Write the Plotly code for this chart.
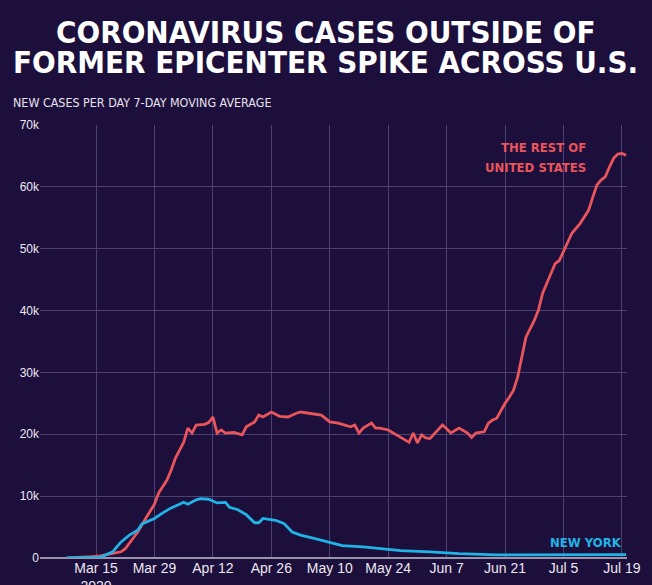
import plotly.graph_objects as go

# ========================
# Data
# ========================
rest_dates = [
    "2020-03-08", "2020-03-11", "2020-03-14", "2020-03-16", "2020-03-18", "2020-03-21",
    "2020-03-22", "2020-03-23", "2020-03-25", "2020-03-27", "2020-03-29", "2020-03-30",
    "2020-04-01", "2020-04-02", "2020-04-03", "2020-04-04", "2020-04-05", "2020-04-06",
    "2020-04-07", "2020-04-08", "2020-04-10", "2020-04-11", "2020-04-12", "2020-04-13",
    "2020-04-14", "2020-04-15", "2020-04-17", "2020-04-19", "2020-04-20", "2020-04-22",
    "2020-04-23", "2020-04-24", "2020-04-26", "2020-04-28", "2020-04-30", "2020-05-02",
    "2020-05-03", "2020-05-05", "2020-05-08", "2020-05-10", "2020-05-12", "2020-05-15",
    "2020-05-16", "2020-05-17", "2020-05-18", "2020-05-20", "2020-05-21", "2020-05-22",
    "2020-05-24", "2020-05-27", "2020-05-29", "2020-05-30", "2020-05-31", "2020-06-01",
    "2020-06-02", "2020-06-03", "2020-06-05", "2020-06-06", "2020-06-07", "2020-06-08",
    "2020-06-10", "2020-06-12", "2020-06-13", "2020-06-14", "2020-06-15", "2020-06-16",
    "2020-06-17", "2020-06-18", "2020-06-19", "2020-06-20", "2020-06-21", "2020-06-22",
    "2020-06-23", "2020-06-24", "2020-06-25", "2020-06-26", "2020-06-28", "2020-06-29",
    "2020-06-30", "2020-07-02", "2020-07-03", "2020-07-04", "2020-07-06", "2020-07-07",
    "2020-07-09", "2020-07-11", "2020-07-12", "2020-07-13", "2020-07-14", "2020-07-15",
    "2020-07-16", "2020-07-17", "2020-07-18", "2020-07-19", "2020-07-20",
]
rest_cases = [
    0, 50, 200, 350, 600, 1000,
    1500, 2400, 4200, 6500, 8700, 10500,
    12600, 14200, 16100, 17400, 18700, 21000,
    20200, 21500, 21600, 21900, 22800, 20200,
    20700, 20200, 20300, 19900, 21200, 22000,
    23100, 22800, 23600, 22900, 22800, 23400,
    23600, 23400, 23100, 22000, 21800, 21200,
    21500, 20200, 21000, 21800, 21000, 21000,
    20700, 19500, 18700, 20200, 18600, 19900,
    19400, 19300, 20700, 21500, 20900, 20200,
    21000, 20200, 19500, 20200, 20300, 20400,
    21800, 22300, 22600, 23900, 25000, 26000,
    27100, 29200, 32500, 35700, 38400, 40100,
    42800, 46000, 47600, 48100, 50900, 52500,
    54100, 56200, 58300, 60300, 61100, 61600,
    63200, 64600, 65300, 65400, 65100,
]

ny_dates = [
    "2020-03-08", "2020-03-14", "2020-03-16", "2020-03-17", "2020-03-19", "2020-03-20",
    "2020-03-21", "2020-03-23", "2020-03-25", "2020-03-26", "2020-03-28", "2020-03-29",
    "2020-03-31", "2020-04-02", "2020-04-04", "2020-04-05", "2020-04-06", "2020-04-08",
    "2020-04-09", "2020-04-11", "2020-04-13", "2020-04-15", "2020-04-16", "2020-04-18",
    "2020-04-20", "2020-04-22", "2020-04-23", "2020-04-24", "2020-04-27", "2020-04-29",
    "2020-05-01", "2020-05-03", "2020-05-06", "2020-05-10", "2020-05-13", "2020-05-18",
    "2020-05-22", "2020-05-27", "2020-06-03", "2020-06-10", "2020-06-19", "2020-07-04",
    "2020-07-14", "2020-07-20",
]
ny_cases = [
    0, 0, 100, 400, 1000, 1800,
    2600, 3700, 4500, 5500, 6100, 6400,
    7300, 8100, 8700, 9000, 8700, 9400,
    9600, 9500, 8900, 9000, 8200, 7800,
    7000, 5700, 5700, 6400, 6100, 5600,
    4200, 3700, 3200, 2500, 2000, 1800,
    1500, 1200, 1000, 700, 500, 500,
    600, 550,
]

tick_dates = ["2020-03-15", "2020-03-29", "2020-04-12", "2020-04-26", "2020-05-10",
              "2020-05-24", "2020-06-07", "2020-06-21", "2020-07-05", "2020-07-19"]
tick_labels = ["Mar 15<br>2020", "Mar 29", "Apr 12", "Apr 26", "May 10",
               "May 24", "Jun 7", "Jun 21", "Jul 5", "Jul 19"]

y_ticks = [0, 10000, 20000, 30000, 40000, 50000, 60000, 70000]
y_tick_labels = ["0", "10k", "20k", "30k", "40k", "50k", "60k", "70k"]

# ========================
# Styling
# ========================
BG = "#1d0f3b"
RED = "#e8555b"
BLUE = "#20b4e6"
GRID = "#4d4174"
COND = "DejaVu Sans Condensed, Liberation Sans Narrow, Arial Narrow, sans-serif"
PLAIN = "Liberation Sans, Arial, sans-serif"

fig = go.Figure()

fig.add_trace(go.Scatter(
    x=rest_dates, y=rest_cases, mode="lines",
    line=dict(color=RED, width=2.8), name="The rest of United States",
    hoverinfo="x+y",
))
fig.add_trace(go.Scatter(
    x=ny_dates, y=ny_cases, mode="lines",
    line=dict(color=BLUE, width=2.8), name="New York",
    hoverinfo="x+y",
))

fig.update_layout(
    width=652, height=585,
    paper_bgcolor=BG, plot_bgcolor=BG,
    margin=dict(l=40, r=25, t=125, b=27),
    showlegend=False,
    font=dict(family=PLAIN, color="#e6e2ee", size=13),
)

fig.update_xaxes(
    range=["2020-03-01 14:00", "2020-07-20 05:00"],
    tickvals=tick_dates, ticktext=tick_labels,
    showgrid=True, gridcolor=GRID, gridwidth=1,
    showline=False, zeroline=False, ticks="", automargin=False,
    tickfont=dict(size=14, color="#ebe8f2"),
)
fig.update_yaxes(
    range=[0, 70000],
    tickvals=y_ticks, ticktext=y_tick_labels,
    showgrid=True, gridcolor=GRID, gridwidth=1,
    zeroline=True, zerolinecolor="#9a93ad", zerolinewidth=2,
    ticks="", automargin=False,
    tickfont=dict(size=12, color="#ebe8f2"),
)

# Title (two lines placed separately to keep the tight leading)
title_lines = ["CORONAVIRUS CASES OUTSIDE OF", "FORMER EPICENTER SPIKE ACROSS U.S."]
for i, line in enumerate(title_lines):
    fig.add_annotation(
        text=f"<b>{line}</b>",
        xref="paper", yref="paper", x=0.5, y=1, xshift=-8, yshift=125 - 32 - 30 * i,
        xanchor="center", yanchor="middle", showarrow=False,
        font=dict(family=COND, size=31, color="#ffffff"),
    )

fig.add_annotation(
    text="NEW CASES PER DAY 7-DAY MOVING AVERAGE",
    xref="paper", yref="paper", x=0, y=1, xshift=-29, yshift=23,
    xanchor="left", yanchor="middle", showarrow=False,
    font=dict(family=COND, size=12.4, color="#e6e2ee"),
)

# Series labels
for text, yval in [("THE REST OF", 66400), ("UNITED STATES", 63200)]:
    fig.add_annotation(
        text=f"<b>{text}</b>",
        x="2020-07-10", y=yval, xanchor="right", yanchor="middle", xshift=4,
        showarrow=False, align="right",
        font=dict(family=COND, size=13, color=RED),
    )
fig.add_annotation(
    text="<b>NEW YORK</b>",
    x="2020-07-19", y=1000, xanchor="right", yanchor="bottom", xshift=2,
    showarrow=False, align="right",
    font=dict(family=COND, size=13, color=BLUE),
)

fig.write_html("out.html", config={"displayModeBar": False},
               post_script="document.body.style.margin = '0';")
